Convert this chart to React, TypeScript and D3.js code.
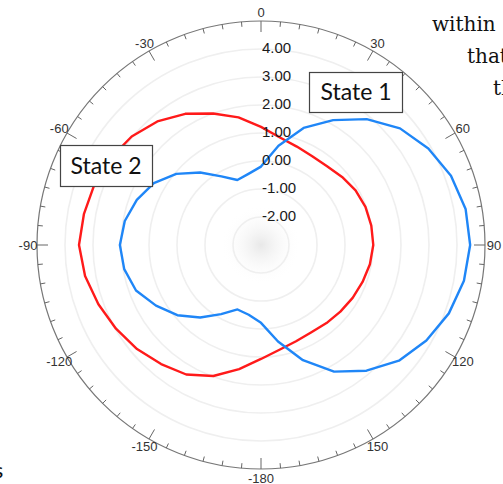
import React from "react";
import * as d3 from "d3";

const angles = [0, 10, 20, 30, 40, 50, 60, 70, 80, 90, 100, 110, 120, 130, 140, 150, 160, 170,
  180, 190, 200, 210, 220, 230, 240, 250, 260, 270, 280, 290, 300, 310, 320, 330, 340, 350];

const state1 = [-0.2, 0.6, 1.45, 2.15, 2.87, 3.48, 3.9, 4.22, 4.42, 4.47, 4.36, 4.14, 3.82, 3.43, 2.86, 2.22, 1.38, 0.5,
  -0.22, -0.47, -0.55, -0.15, 0.38, 0.9, 1.33, 1.75, 1.96, 2.04, 1.94, 1.72, 1.42, 0.95, 0.38, -0.17, -0.53, -0.42];

const state2 = [1.22, 0.9, 0.74, 0.66, 0.67, 0.78, 0.9, 0.97, 1.0, 1.01, 0.95, 0.86, 0.78, 0.7, 0.64, 0.6, 0.66, 0.8,
  1.07, 1.5, 1.98, 2.34, 2.55, 2.78, 2.98, 3.18, 3.38, 3.5, 3.42, 3.33, 3.2, 3.03, 2.76, 2.41, 2.0, 1.63];

const radialTicks = [4, 3, 2, 1, 0, -1, -2];
const angleLabels = ["0", "30", "60", "90", "120", "150", "-180", "-150", "-120", "-90", "-60", "-30"];
const angleLabelDeg = [0, 30, 60, 90, 120, 150, 180, 210, 240, 270, 300, 330];

export default function App() {
  const W = 503, H = 484;
  const cx = 261, cy = 245, R = 224;
  const r = d3.scaleLinear().domain([-3, 5]).range([0, R]);
  const toRad = (d: number) => (d * Math.PI) / 180;

  const line = d3
    .lineRadial<number>()
    .angle((_, i) => toRad(angles[i]))
    .curve(d3.curveLinearClosed);

  const path1 = line.radius((v) => r(v))(state1) || "";
  const path2 = line.radius((v) => r(v))(state2) || "";

  const minorTicks = d3.range(0, 360, 5);
  const gridVals = d3.range(-2, 5, 1);

  return (
    <svg width={W} height={H} style={{ position: "absolute", left: 0, top: 0, background: "#fff" }}>
      <defs>
        <radialGradient id="blob">
          <stop offset="0%" stopColor="#e8e8e8" />
          <stop offset="100%" stopColor="#ffffff" stopOpacity={0} />
        </radialGradient>
      </defs>
      {/* background document text */}
      <g fontFamily="DejaVu Serif" fontSize={20} fill="#111">
        <text x={432} y={31}>within</text>
        <text x={467} y={63}>that</text>
        <text x={493} y={95}>th</text>
      </g>
      <text x={-7} y={478} fontFamily="DejaVu Sans" fontSize={20} fill="#111">s</text>

      <g transform={`translate(${cx},${cy})`}>
        <circle r={R} fill="#fff" />
        <circle r={40} fill="url(#blob)" />
        {gridVals.map((v) => (
          <circle key={v} r={r(v)} fill="none" stroke="#efefef" strokeWidth={1.6} />
        ))}
        <circle r={R} fill="none" stroke="#777" strokeWidth={1.2} />
        {minorTicks.map((a) => {
          const major = a % 30 === 0;
          const len = major ? 11 : 5;
          const t = toRad(a);
          return (
            <line
              key={a}
              x1={Math.sin(t) * R}
              y1={-Math.cos(t) * R}
              x2={Math.sin(t) * (R - len)}
              y2={-Math.cos(t) * (R - len)}
              stroke="#666"
              strokeWidth={1}
            />
          );
        })}
        {angleLabels.map((lab, i) => {
          const t = toRad(angleLabelDeg[i]);
          const rr = 233;
          return (
            <text
              key={lab}
              x={Math.sin(t) * rr}
              y={-Math.cos(t) * rr}
              textAnchor="middle"
              dominantBaseline="central"
              fontFamily="Liberation Sans, Arial, sans-serif"
              fontSize={13}
              fill="#333"
            >
              {lab}
            </text>
          );
        })}
        <path d={path2} fill="none" stroke="#ff1a1a" strokeWidth={2.4} strokeLinejoin="round" />
        <path d={path1} fill="none" stroke="#1f86f7" strokeWidth={2.4} strokeLinejoin="round" />
        {radialTicks.map((v) => (
          <text
            key={v}
            x={1}
            y={-r(v) + 4}
            fontFamily="Liberation Sans, Arial, sans-serif"
            fontSize={15}
            fill="#1a1a1a"
          >
            {d3.format(".2f")(v).replace("−", "-")}
          </text>
        ))}
      </g>

      <g>
        <rect x={309.5} y={72.5} width={93} height={40} fill="#fff" stroke="#444" strokeWidth={1.2} />
        <text x={356} y={100} textAnchor="middle" fontFamily="Lato, Open Sans, sans-serif" fontSize={23} fill="#111">
          State 1
        </text>
        <rect x={60.5} y={145.5} width={92} height={41} fill="#fff" stroke="#444" strokeWidth={1.2} />
        <text x={106} y={174} textAnchor="middle" fontFamily="Lato, Open Sans, sans-serif" fontSize={23} fill="#111">
          State 2
        </text>
      </g>
    </svg>
  );
}
